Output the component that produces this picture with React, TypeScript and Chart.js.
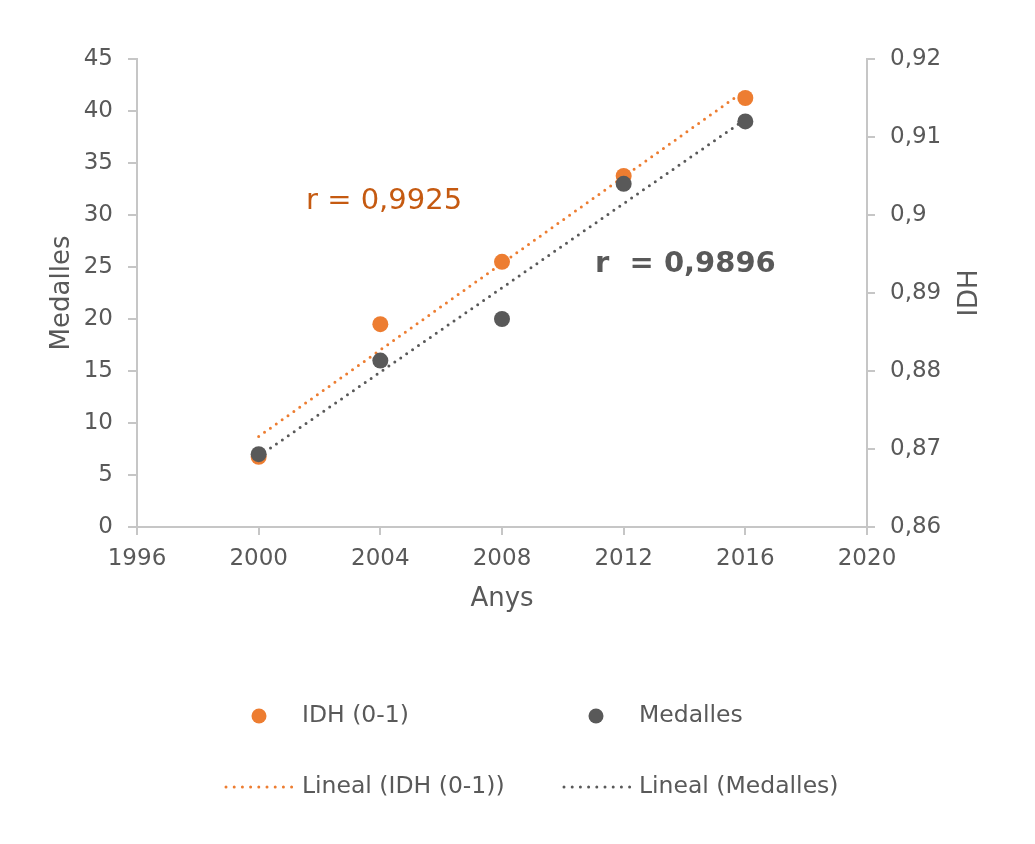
import { useEffect, useRef } from "react";
import { Chart, registerables } from "chart.js";

Chart.register(...registerables);

// ---- data ----
const years = [2000, 2004, 2008, 2012, 2016];
const medalles = [7, 16, 20, 33, 39];
const idh = [0.869, 0.886, 0.894, 0.905, 0.915];

const xMin = 1996;
const xMax = 2020;
const xStep = 4;
const yMin = 0;
const yMax = 45;
const yStep = 5;
const y1Min = 0.86;
const y1Max = 0.92;
const y1Step = 0.01;

const seriesNames = ["IDH (0-1)", "Medalles"];
const trendNames = ["Lineal (IDH (0-1))", "Lineal (Medalles)"];
const rLabels = ["r = 0,9925", "r  = 0,9896"];
const xTitle = "Anys";
const yTitle = "Medalles";
const y1Title = "IDH";

// ---- styles ----
const ORANGE = "#ED7D31";
const ORANGE_TEXT = "#C55A11";
const GRAY = "#595959";
const TEXT = "#595959";
const AXIS = "#C6C6C6";
const FONT = "'DejaVu Sans', Verdana, sans-serif";

function linearTrend(xs: number[], ys: number[]) {
  const n = xs.length;
  const mx = xs.reduce((a, b) => a + b, 0) / n;
  const my = ys.reduce((a, b) => a + b, 0) / n;
  let sxy = 0;
  let sxx = 0;
  for (let i = 0; i < n; i++) {
    sxy += (xs[i] - mx) * (ys[i] - my);
    sxx += (xs[i] - mx) * (xs[i] - mx);
  }
  const b = sxy / sxx;
  const a = my - b * mx;
  const x0 = xs[0];
  const x1 = xs[n - 1];
  return [
    { x: x0, y: a + b * x0 },
    { x: x1, y: a + b * x1 },
  ];
}

const W = 1027;
const H = 836;

export default function App() {
  const ref = useRef<HTMLCanvasElement | null>(null);

  useEffect(() => {
    document.body.style.overflow = "hidden";
    const canvas = ref.current;
    if (!canvas) return;

    const overlay = {
      id: "overlay",
      afterDraw(chart: any) {
        const ctx = chart.ctx as CanvasRenderingContext2D;
        ctx.save();
        // axis titles
        ctx.fillStyle = TEXT;
        ctx.font = `26px ${FONT}`;
        ctx.textAlign = "center";
        ctx.textBaseline = "middle";
        ctx.save();
        ctx.translate(54, 285);
        ctx.rotate(-Math.PI / 2);
        ctx.fillText(yTitle, 0, 0);
        ctx.restore();
        ctx.save();
        ctx.translate(962, 285);
        ctx.rotate(-Math.PI / 2);
        ctx.fillText(y1Title, 0, 0);
        ctx.restore();
        ctx.textBaseline = "alphabetic";
        ctx.fillText(xTitle, 494, 598);

        // r annotations
        ctx.textAlign = "left";
        ctx.font = `29px ${FONT}`;
        ctx.fillStyle = ORANGE_TEXT;
        ctx.fillText(rLabels[0], 298, 201);
        ctx.font = `bold 29px ${FONT}`;
        ctx.fillStyle = GRAY;
        ctx.fillText(rLabels[1], 587, 264);

        // legend
        ctx.font = `23.5px ${FONT}`;
        ctx.textBaseline = "middle";
        const row1 = 708;
        const row2 = 779;
        const cols = [
          { marker: 251, text: 294, line0: 218, line1: 284, color: ORANGE },
          { marker: 588, text: 631, line0: 556, line1: 622, color: GRAY },
        ];
        cols.forEach((c, i) => {
          ctx.fillStyle = c.color;
          ctx.beginPath();
          ctx.arc(c.marker, row1, 7.5, 0, Math.PI * 2);
          ctx.fill();
          ctx.fillStyle = TEXT;
          ctx.fillText(seriesNames[i], c.text, row1);

          ctx.strokeStyle = c.color;
          ctx.lineWidth = 3;
          ctx.lineCap = "round";
          ctx.setLineDash([0, 8.2]);
          ctx.beginPath();
          ctx.moveTo(c.line0, row2);
          ctx.lineTo(c.line1, row2);
          ctx.stroke();
          ctx.setLineDash([]);
          ctx.fillStyle = TEXT;
          ctx.fillText(trendNames[i], c.text, row2);
        });
        ctx.restore();
      },
    };

    const tickFont = { family: FONT, size: 23 };
    const gridOpts = (len: number) => ({
      drawOnChartArea: false,
      drawTicks: true,
      tickLength: len,
      color: AXIS,
      lineWidth: 2,
    });

    const chart = new Chart(canvas, {
      type: "scatter",
      data: {
        datasets: [
          {
            label: seriesNames[1],
            data: years.map((x, i) => ({ x, y: medalles[i] })),
            yAxisID: "y",
            pointRadius: 8,
            pointBackgroundColor: GRAY,
            pointBorderWidth: 0,
            showLine: false,
          },
          {
            label: seriesNames[0],
            data: years.map((x, i) => ({ x, y: idh[i] })),
            yAxisID: "y1",
            pointRadius: 8,
            pointBackgroundColor: ORANGE,
            pointBorderWidth: 0,
            showLine: false,
          },
          {
            label: trendNames[0],
            data: linearTrend(years, idh),
            yAxisID: "y1",
            showLine: true,
            pointRadius: 0,
            borderColor: ORANGE,
            borderWidth: 3,
            borderDash: [0, 7.2],
            borderCapStyle: "round",
          },
          {
            label: trendNames[1],
            data: linearTrend(years, medalles),
            yAxisID: "y",
            showLine: true,
            pointRadius: 0,
            borderColor: GRAY,
            borderWidth: 3,
            borderDash: [0, 7.2],
            borderCapStyle: "round",
          },
        ] as any,
      },
      options: {
        animation: false,
        responsive: false,
        devicePixelRatio: 1,
        layout: { padding: { top: 51, left: 0, right: 0, bottom: 257 } },
        plugins: { legend: { display: false }, tooltip: { enabled: false } },
        events: [],
        scales: {
          x: {
            type: "linear",
            position: "bottom",
            min: xMin,
            max: xMax,
            ticks: {
              stepSize: xStep,
              callback: (v: any) => String(v),
              color: TEXT,
              font: tickFont,
              padding: 10,
              maxRotation: 0,
            },
            grid: gridOpts(8),
            border: { color: AXIS, width: 2 },
            afterFit: (s: any) => {
              s.height = 60;
            },
          },
          y: {
            type: "linear",
            position: "left",
            min: yMin,
            max: yMax,
            ticks: {
              stepSize: yStep,
              color: TEXT,
              font: tickFont,
              padding: 15,
            },
            grid: gridOpts(9),
            border: { color: AXIS, width: 2 },
            afterFit: (s: any) => {
              s.width = 129;
            },
          },
          y1: {
            type: "linear",
            position: "right",
            min: y1Min,
            max: y1Max,
            ticks: {
              stepSize: y1Step,
              color: TEXT,
              font: tickFont,
              padding: 15,
              callback: (v: any) =>
                String(parseFloat(Number(v).toFixed(2))).replace(".", ","),
            },
            grid: gridOpts(8),
            border: { color: AXIS, width: 2 },
            afterFit: (s: any) => {
              s.width = W - 859;
            },
          },
        },
      } as any,
      plugins: [overlay],
    });

    return () => chart.destroy();
  }, []);

  return (
    <div
      style={{
        border: "1px solid #D9D9D9",
        width: 1040,
        height: 850,
        margin: -1,
        background: "#fff",
      }}
    >
      <canvas ref={ref} width={W} height={H} style={{ display: "block" }} />
    </div>
  );
}
